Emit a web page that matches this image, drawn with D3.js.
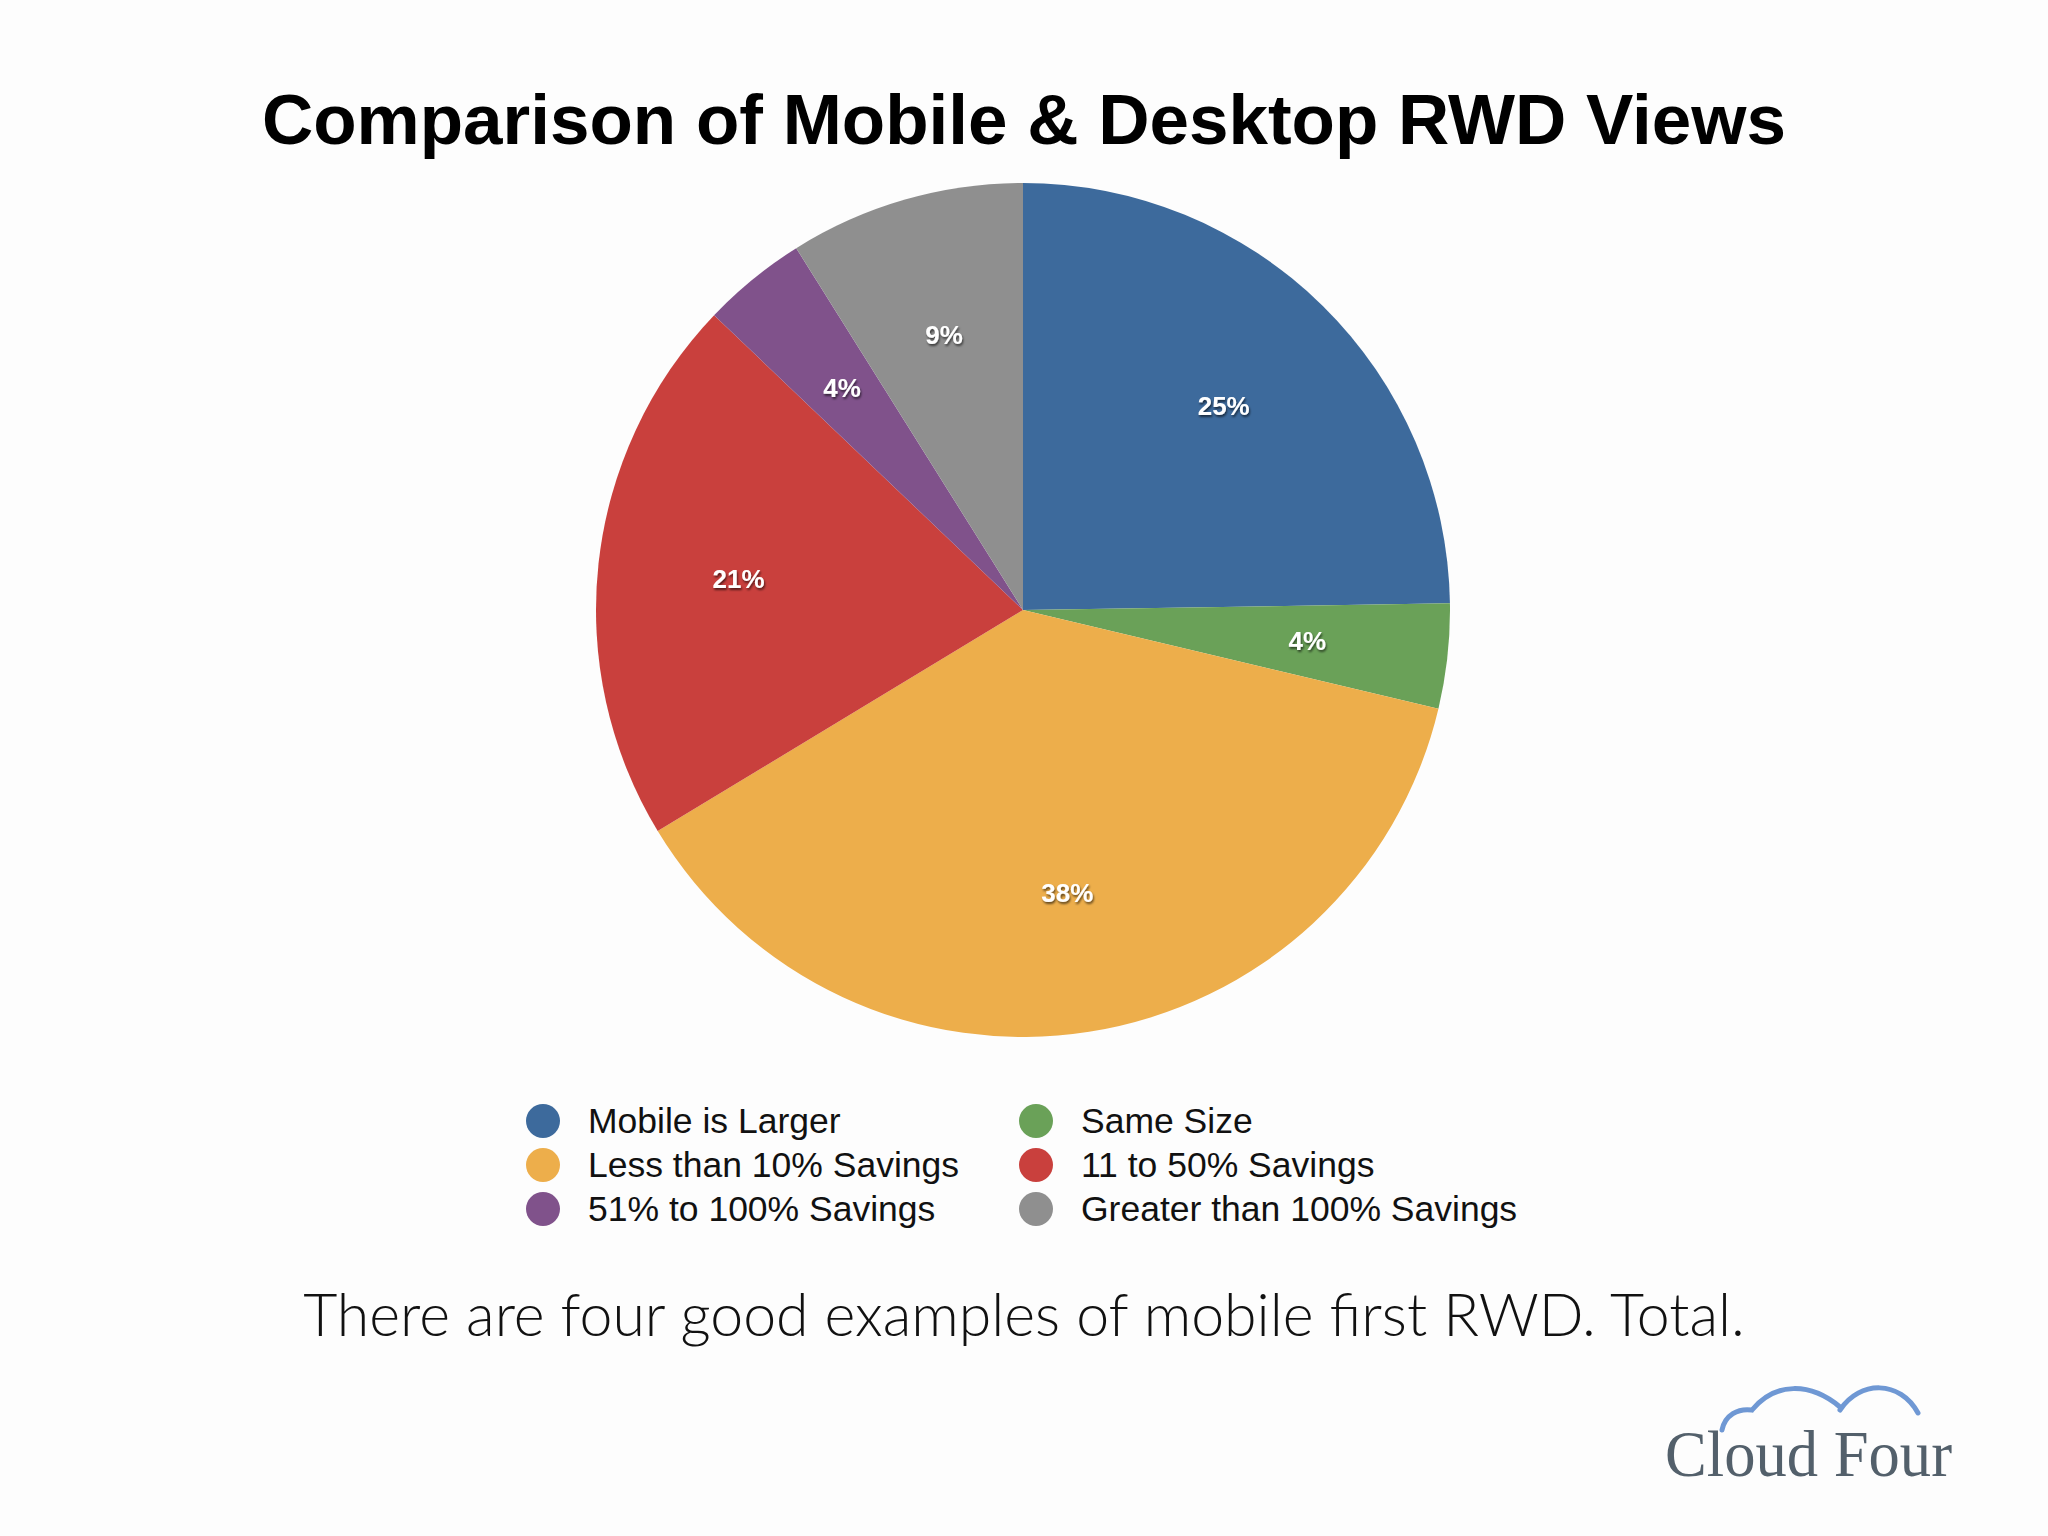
<!DOCTYPE html>
<html><head><meta charset="utf-8">
<script src="https://cdn.jsdelivr.net/npm/d3@7"></script>
<style>html,body{margin:0;padding:0;background:#fdfdfd;}</style>
</head><body>
<script>
const categories = ["Mobile is Larger","Same Size","Less than 10% Savings","11 to 50% Savings","51% to 100% Savings","Greater than 100% Savings"];
const values = [25,4,38,21,4,9];
const colors = ["#3d6a9c","#6aa158","#edae4b","#c9403d","#80528b","#8f8f8f"];
const legendOrder = [0,1,2,3,4,5];

const W=2048,H=1536;
const svg=d3.select("body").append("svg").attr("width",W).attr("height",H);
svg.append("rect").attr("width",W).attr("height",H).attr("fill","#fdfdfd");
const defs=svg.append("defs");
const f=defs.append("filter").attr("id","sh").attr("x","-20%").attr("y","-20%").attr("width","140%").attr("height","140%");
f.append("feDropShadow").attr("dx",1).attr("dy",2).attr("stdDeviation",1.2).attr("flood-color","#000").attr("flood-opacity",0.6);

svg.append("text").attr("x",1024).attr("y",144).attr("text-anchor","middle")
 .attr("font-family","Liberation Sans, Arial, sans-serif").attr("font-weight","bold").attr("font-size",71)
 .attr("fill","#000").text("Comparison of Mobile & Desktop RWD Views");

const cx=1023,cy=610,r=427;
const pie=d3.pie().sort(null).value(d=>d)(values);
const arc=d3.arc().innerRadius(0).outerRadius(r);
const g=svg.append("g").attr("transform",`translate(${cx},${cy})`);
g.selectAll("path").data(pie).join("path").attr("d",arc).attr("fill",(d,i)=>colors[i]);
const la=d3.arc().innerRadius(r*0.67).outerRadius(r*0.67);
g.selectAll("text").data(pie).join("text")
 .attr("transform",d=>`translate(${la.centroid(d)})`).attr("text-anchor","middle").attr("dy","0.35em")
 .attr("font-family","Liberation Sans, Arial, sans-serif").attr("font-weight","bold").attr("font-size",26)
 .attr("fill","#fff").attr("filter","url(#sh)").text(d=>d.data+"%");

const lg=svg.append("g");
legendOrder.forEach((k,i)=>{
  const col=i%2, row=Math.floor(i/2);
  const x=[543,1036][col], y=1121+row*44;
  lg.append("circle").attr("cx",x).attr("cy",y).attr("r",17).attr("fill",colors[k]);
  lg.append("text").attr("x",x+45).attr("y",y).attr("dy","0.35em")
   .attr("font-family","Liberation Sans, Arial, sans-serif").attr("font-size",35.5).attr("fill","#111").text(categories[k]);
});

svg.append("text").attr("x",1024).attr("y",1336).attr("text-anchor","middle")
 .attr("font-family","Lato, Liberation Sans, sans-serif").attr("font-weight",300).attr("font-size",59)
 .attr("fill","#111").text("There are four good examples of mobile first RWD. Total.");

// logo
svg.append("path").attr("d","M1722,1430 C1725,1415 1738,1408 1752,1410 C1775,1382 1810,1382 1840,1407 M1840,1410 C1860,1380 1900,1380 1918,1413")
 .attr("fill","none").attr("stroke","#6f98d4").attr("stroke-width",5).attr("stroke-linecap","round");
svg.append("text").attr("x",1665).attr("y",1476).attr("font-family","Liberation Serif, DejaVu Serif, serif")
 .attr("font-size",66).attr("fill","#53606b").attr("textLength",287).attr("lengthAdjust","spacingAndGlyphs").text("Cloud Four");
</script>
</body></html>
